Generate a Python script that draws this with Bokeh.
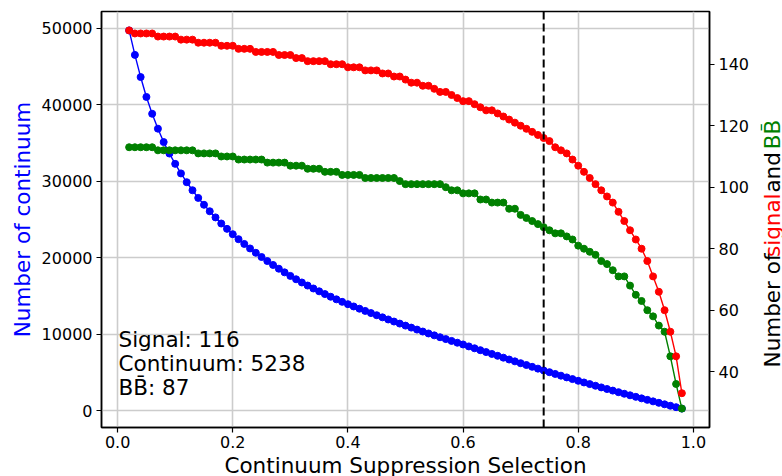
import math
from bokeh.plotting import figure
from bokeh.layouts import row, column
from bokeh.models import Range1d, LinearAxis, FixedTicker, PrintfTickFormatter, Span, Label
from bokeh.embed import file_html
from bokeh.resources import INLINE

# ---------------- data ----------------
cuts = [0.02, 0.03, 0.04, 0.05, 0.06, 0.07, 0.08, 0.09, 0.10, 0.11, 0.12, 0.13, 0.14, 0.15,
        0.16, 0.17, 0.18, 0.19, 0.20, 0.21, 0.22, 0.23, 0.24, 0.25, 0.26, 0.27, 0.28, 0.29,
        0.30, 0.31, 0.32, 0.33, 0.34, 0.35, 0.36, 0.37, 0.38, 0.39, 0.40, 0.41, 0.42, 0.43,
        0.44, 0.45, 0.46, 0.47, 0.48, 0.49, 0.50, 0.51, 0.52, 0.53, 0.54, 0.55, 0.56, 0.57,
        0.58, 0.59, 0.60, 0.61, 0.62, 0.63, 0.64, 0.65, 0.66, 0.67, 0.68, 0.69, 0.70, 0.71,
        0.72, 0.73, 0.74, 0.75, 0.76, 0.77, 0.78, 0.79, 0.80, 0.81, 0.82, 0.83, 0.84, 0.85,
        0.86, 0.87, 0.88, 0.89, 0.90, 0.91, 0.92, 0.93, 0.94, 0.95, 0.96, 0.97, 0.98]

continuum = [49700, 46500, 43600, 41000, 38800, 36850, 35100, 33600, 32250, 31000, 29850,
             28800, 27800, 26900, 26050, 25250, 24450, 23750, 23050,
             22400, 21780, 21190, 20620, 20070, 19540, 19030, 18540, 18065, 17600,
             17160, 16740, 16340, 15955, 15585, 15225, 14875, 14535, 14210, 13900,
             13605, 13313, 13025, 12740, 12458, 12180, 11905, 11633, 11365, 11100,
             10838, 10580, 10325, 10073, 9825, 9580, 9338, 9100, 8865, 8633,
             8383, 8134, 7887, 7641, 7396, 7152, 6909, 6667, 6426, 6186, 5948, 5711, 5475, 5238,
             5008, 4780, 4554, 4330, 4107, 3886, 3667, 3450, 3235, 3022, 2811, 2602,
             2395, 2190, 1987, 1786, 1587, 1390, 1195, 1002, 811, 622, 435, 250]

signal = [151, 150, 150, 150, 150, 149, 149, 149, 149, 148, 148, 148, 147, 147, 147, 147,
          146, 146, 146, 145, 145, 145, 144, 144, 144, 144, 143, 143, 143, 142, 142,
          141, 141, 141, 141, 140, 140, 140, 139, 139, 139, 138, 138, 138, 137, 137,
          136, 136, 135, 134, 134, 133, 133, 132, 131, 131, 130, 129, 128, 128, 127, 126,
          125, 125, 124, 123, 122, 121, 120, 119, 118, 117, 116, 115, 113, 112, 111, 109,
          107, 105, 103, 101, 99, 97, 95, 92, 89, 86, 83, 80, 76, 71, 66, 60, 53, 45, 33]

bbbar = [113, 113, 113, 113, 113, 112, 112, 112, 112, 112, 112, 112, 111, 111, 111, 111,
         110, 110, 110, 109, 109, 109, 109, 109, 108, 108, 108, 108, 107, 107, 107,
         106, 106, 106, 105, 105, 105, 104, 104, 104, 104, 103, 103, 103, 103, 103, 103,
         102, 101, 101, 101, 101, 101, 101, 101, 100, 99, 99, 98, 98, 98, 96, 96, 95, 95, 95,
         93, 93, 91, 90, 89, 88, 87, 86, 85, 85, 84, 83, 81, 80, 79, 78, 76, 75, 73, 71, 71,
         68, 65, 63, 60, 58, 55, 53, 45, 36, 28]

chosen_cut = 0.74
chosen_signal = 116
chosen_continuum = 5238
chosen_bbbar = 87

x_ticks = [0.0, 0.2, 0.4, 0.6, 0.8, 1.0]
left_ticks = [0, 10000, 20000, 30000, 40000, 50000]
right_ticks = [40, 60, 80, 100, 120, 140]

x_label = "Continuum Suppression Selection"
left_label = "Number of continuum"
right_label_parts = [("Number of", "black"), ("signal", "red"), ("and", "black"), ("BB\u0304", "green")]

# ---------------- ranges (5% padding like matplotlib) ----------------
def padded(lo, hi, f=0.05):
    d = (hi - lo) * f
    return lo - d, hi + d

xlo, xhi = padded(min(cuts), max(cuts))
ylo, yhi = padded(min(continuum), max(continuum))
rlo, rhi = padded(min(signal + bbbar), max(signal + bbbar))

FONT = "DejaVu Sans"
BIG = "21.5px"
TOTAL_W, TOTAL_H = 782, 476
MAIN_W, MAIN_H = 760, 455
FRAME_L, FRAME_R, FRAME_T, FRAME_B = 101, 709, 11, 427
TEXT_SHIFT = 7   # renderer draws "alphabetic" text this much past the anchor

p = figure(width=MAIN_W, height=MAIN_H, output_backend="svg", toolbar_location=None,
           x_range=Range1d(xlo, xhi), y_range=Range1d(ylo, yhi),
           min_border_left=FRAME_L, min_border_right=MAIN_W - FRAME_R,
           min_border_top=FRAME_T, min_border_bottom=MAIN_H - FRAME_B)
p.extra_y_ranges = {"sig": Range1d(rlo, rhi)}
p.background_fill_color = "white"
p.border_fill_color = "white"
p.outline_line_color = "black"
p.outline_line_width = 1.5

right_axis = LinearAxis(y_range_name="sig")
p.add_layout(right_axis, "right")

p.xaxis[0].ticker = FixedTicker(ticks=x_ticks)
p.xaxis[0].formatter = PrintfTickFormatter(format="%.1f")
p.yaxis[0].ticker = FixedTicker(ticks=left_ticks)
p.yaxis[0].formatter = PrintfTickFormatter(format="%d")
right_axis.ticker = FixedTicker(ticks=right_ticks)
right_axis.formatter = PrintfTickFormatter(format="%d")

for ax in [p.xaxis[0], p.yaxis[0], right_axis]:
    ax.axis_line_color = "black"
    ax.axis_line_width = 1.5
    ax.major_tick_line_color = "black"
    ax.major_tick_line_width = 1.2
    ax.major_tick_out = 5
    ax.major_tick_in = 0
    ax.minor_tick_out = 0
    ax.minor_tick_in = 0
    ax.major_label_text_font = FONT
    ax.major_label_text_font_size = "16px"
    ax.major_label_text_color = "black"
    ax.major_label_standoff = 4
    ax.axis_label_text_font = FONT
    ax.axis_label_text_font_size = BIG
    ax.axis_label_text_font_style = "normal"

p.xaxis[0].major_label_standoff = 3

p.yaxis[0].axis_label = left_label
p.yaxis[0].axis_label_text_color = "blue"
p.yaxis[0].axis_label_standoff = 4

p.xgrid.grid_line_color = "#cccccc"
p.xgrid.grid_line_width = 1.6
p.ygrid.grid_line_color = "#cccccc"
p.ygrid.grid_line_width = 1.6

# ---------------- series ----------------
p.line(cuts, continuum, line_color="blue", line_width=1.4)
p.scatter(cuts, continuum, size=7, fill_color="blue", line_color="blue")

p.line(cuts, bbbar, line_color="green", line_width=1.4, y_range_name="sig")
p.scatter(cuts, bbbar, size=7, fill_color="green", line_color="green", y_range_name="sig")

p.line(cuts, signal, line_color="red", line_width=1.4, y_range_name="sig")
p.scatter(cuts, signal, size=7, fill_color="red", line_color="red", y_range_name="sig")

p.add_layout(Span(location=chosen_cut, dimension="height", line_color="black",
                  line_dash="8 4", line_width=2))

# ---------------- annotation text ----------------
info = [f"Signal: {chosen_signal}", f"Continuum: {chosen_continuum}", f"BB\u0304: {chosen_bbbar}"]
for txt, yy in zip(info, [80.7, 57.4, 32.7]):
    p.add_layout(Label(x=17, y=yy + TEXT_SHIFT, x_units="screen", y_units="screen", text=txt,
                       text_font=FONT, text_font_size=BIG, text_color="black",
                       text_align="left", text_baseline="alphabetic"))


def strip(w, h):
    f = figure(width=w, height=h, output_backend="svg", toolbar_location=None,
               x_range=Range1d(0, w), y_range=Range1d(0, h),
               x_axis_location=None, y_axis_location=None,
               min_border=0, min_border_left=0, min_border_right=0,
               min_border_top=0, min_border_bottom=0)
    f.grid.visible = False
    f.outline_line_color = None
    f.background_fill_color = "white"
    f.border_fill_color = "white"
    return f


# ---------------- right multi-coloured axis label (narrow strip) ----------------
SIDE_W = TOTAL_W - MAIN_W
side = strip(SIDE_W, MAIN_H)
em = 21.5
offsets_em = [0.0, 5.617, 8.894, 11.094]   # start of each word along the label
start = MAIN_H - 389.3
base_x = 778.5 - MAIN_W - TEXT_SHIFT
side.text(x=[base_x] * 4, y=[start + o * em for o in offsets_em],
          text=[t for t, c in right_label_parts],
          text_color=[c for t, c in right_label_parts],
          angle=math.pi / 2, text_align="left", text_baseline="alphabetic",
          text_font={"value": FONT}, text_font_size={"value": BIG})

# ---------------- x axis label (bottom strip) ----------------
BOT_H = TOTAL_H - MAIN_H
bottom = strip(TOTAL_W, BOT_H)
bottom.text(x=[(FRAME_L + FRAME_R) / 2], y=[TOTAL_H - 472 + TEXT_SHIFT], text=[x_label],
            text_color="black", text_align="center", text_baseline="alphabetic",
            text_font={"value": FONT}, text_font_size={"value": BIG})

layout = column(row(p, side, spacing=0), bottom, spacing=0)
open("out.html", "w").write(file_html(layout, INLINE))
